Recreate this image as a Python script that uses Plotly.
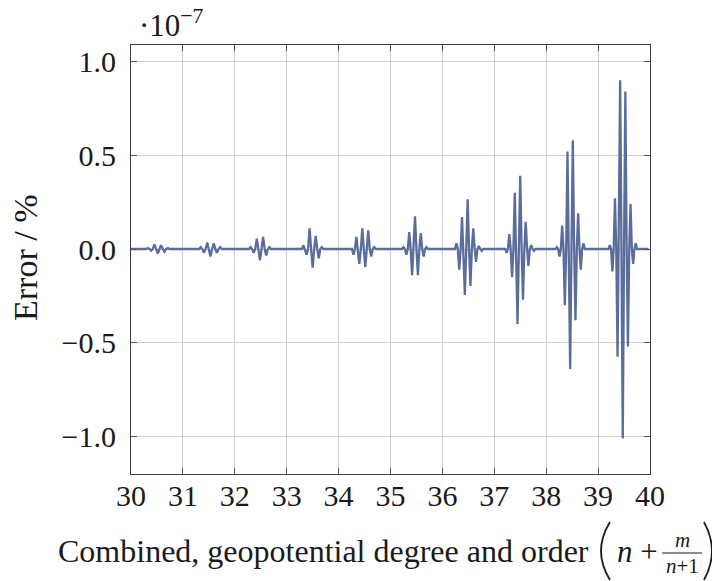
import plotly.graph_objects as go

# ---------------- data (error values in units of 1e-7 %) ----------------
degrees = [30, 31, 32, 33, 34, 35, 36, 37, 38, 39]
# first order m carrying a non-zero error for each degree (steps of 2 in m)
first_m = [10, 11, 10, 11, 10, 9, 10, 9, 8, 9]
err_30 = [0.005, -0.01, 0.025, -0.025, 0.02, -0.015, 0.005]
err_31 = [0.01, -0.02, 0.035, -0.04, 0.03, -0.02, 0.01]
err_32 = [0.01, -0.02, 0.055, -0.06, 0.065, -0.035, 0.01]
err_33 = [0.02, -0.03, 0.11, -0.10, 0.07, -0.05, 0.01]
err_34 = [-0.03, 0.065, -0.08, 0.11, -0.095, 0.10, -0.04, 0.01]
err_35 = [0.01, -0.03, 0.09, -0.14, 0.175, -0.14, 0.085, -0.04, 0.01]
err_36 = [0.03, -0.11, 0.17, -0.245, 0.265, -0.197, 0.11, -0.068, 0.016, -0.01]
err_37 = [-0.02, 0.08, -0.15, 0.30, -0.40, 0.39, -0.27, 0.145, -0.09, 0.02, -0.01]
err_38 = [0.01, -0.04, 0.125, -0.30, 0.52, -0.64, 0.58, -0.38, 0.19, -0.11, 0.03]
err_39 = [0.02, -0.12, 0.27, -0.575, 0.90, -1.01, 0.84, -0.52, 0.24, -0.08, 0.03]
errors = [err_30, err_31, err_32, err_33, err_34, err_35, err_36, err_37, err_38, err_39]

x_ticks = [30, 31, 32, 33, 34, 35, 36, 37, 38, 39, 40]
y_ticks = [-1.0, -0.5, 0.0, 0.5, 1.0]

# build the series: every (n, m) pair, x = n + m/(n+1)
xs, ys = [], []
for n, m0, vals in zip(degrees, first_m, errors):
    nz = {m0 + 2 * k: v for k, v in enumerate(vals)}
    for m in range(n + 1):
        xs.append(n + m / (n + 1))
        ys.append(nz.get(m, 0.0))

# ---------------- figure ----------------
OFF = 8                      # default page body margin
PAGE_W, PAGE_H = 720, 581
W, H = PAGE_W - OFF, PAGE_H - OFF
# plot area in page pixels: x 131..650, y 45..474
L, T = 131 - OFF, 45 - OFF
pw, ph = 650 - 131, 474 - 45
R, B = W - L - pw, H - T - ph


def px(xp):                  # page pixel -> paper
    return (xp - 131) / pw


def py(yp):
    return (474 - yp) / ph


FONT = "Liberation Serif"
INK = "#1a1a1a"
LINE = "#5b6d9a"

fig = go.Figure()
fig.add_trace(go.Scatter(x=xs, y=ys, mode="lines",
                         line=dict(color=LINE, width=2.3), hoverinfo="skip"))

axis_common = dict(showline=True, linecolor="#3c3c3c", linewidth=1.2, mirror="ticks",
                   ticks="inside", ticklen=6, tickcolor="#555555", tickwidth=1,
                   showgrid=True, gridcolor="#cfcfcf", gridwidth=1, zeroline=False,
                   tickfont=dict(family=FONT, size=30, color=INK))

fig.update_layout(
    width=W, height=H,
    margin=dict(l=L, r=R, t=T, b=B, autoexpand=False),
    paper_bgcolor="white", plot_bgcolor="white",
    showlegend=False,
    xaxis=dict(range=[30, 40], tickvals=x_ticks, ticktext=[str(v) for v in x_ticks],
               ticklabelstandoff=-5, **axis_common),
    yaxis=dict(range=[-1.2, 1.088], tickvals=y_ticks, tickformat=".1f",
               ticklabelstandoff=8, **axis_common),
)

ann = []
txt = dict(family=FONT, size=31, color=INK)
# y axis title
ann.append(dict(text="Error / %", x=px(26), y=py(258), xref="paper", yref="paper",
                textangle=-90, showarrow=False, font=dict(family=FONT, size=34, color=INK),
                xanchor="center", yanchor="middle"))
# scale factor
ann.append(dict(text="·10<sup>−7</sup>", x=px(137), y=py(24), xref="paper", yref="paper",
                showarrow=False, font=txt, xanchor="left", yanchor="middle"))
# x axis title pieces
ann.append(dict(text="Combined, geopotential degree and order", x=px(56), y=py(551),
                xref="paper", yref="paper", showarrow=False, font=dict(family=FONT, size=32, color=INK),
                xanchor="left", yanchor="middle"))
ann.append(dict(text="<i>n</i> +", x=px(615), y=py(551), xref="paper", yref="paper",
                showarrow=False, font=dict(family=FONT, size=31, color=INK),
                xanchor="left", yanchor="middle"))
ann.append(dict(text="<i>m</i>", x=px(682), y=py(540), xref="paper", yref="paper",
                showarrow=False, font=dict(family=FONT, size=21, color=INK),
                xanchor="center", yanchor="middle"))
ann.append(dict(text="<i>n</i>+1", x=px(682), y=py(566), xref="paper", yref="paper",
                showarrow=False, font=dict(family=FONT, size=21, color=INK),
                xanchor="center", yanchor="middle"))
fig.update_layout(annotations=ann)

# fraction bar
fig.add_shape(type="line", xref="paper", yref="paper", x0=px(662), x1=px(702),
              y0=py(553), y1=py(553), line=dict(color=INK, width=1.2))


# tall parentheses as thin curves
def paren_path(x_tip, x_mid, y_top, y_bot):
    ym = (y_top + y_bot) / 2
    return (f"M {px(x_tip)},{py(y_top)} Q {px(x_mid)},{py(ym)} {px(x_tip)},{py(y_bot)}")


fig.add_shape(type="path", xref="paper", yref="paper",
              path=paren_path(610, 592, 522, 580), line=dict(color=INK, width=1.8))
fig.add_shape(type="path", xref="paper", yref="paper",
              path=paren_path(704, 720, 522, 580), line=dict(color=INK, width=1.8))

fig.write_html("out.html")
